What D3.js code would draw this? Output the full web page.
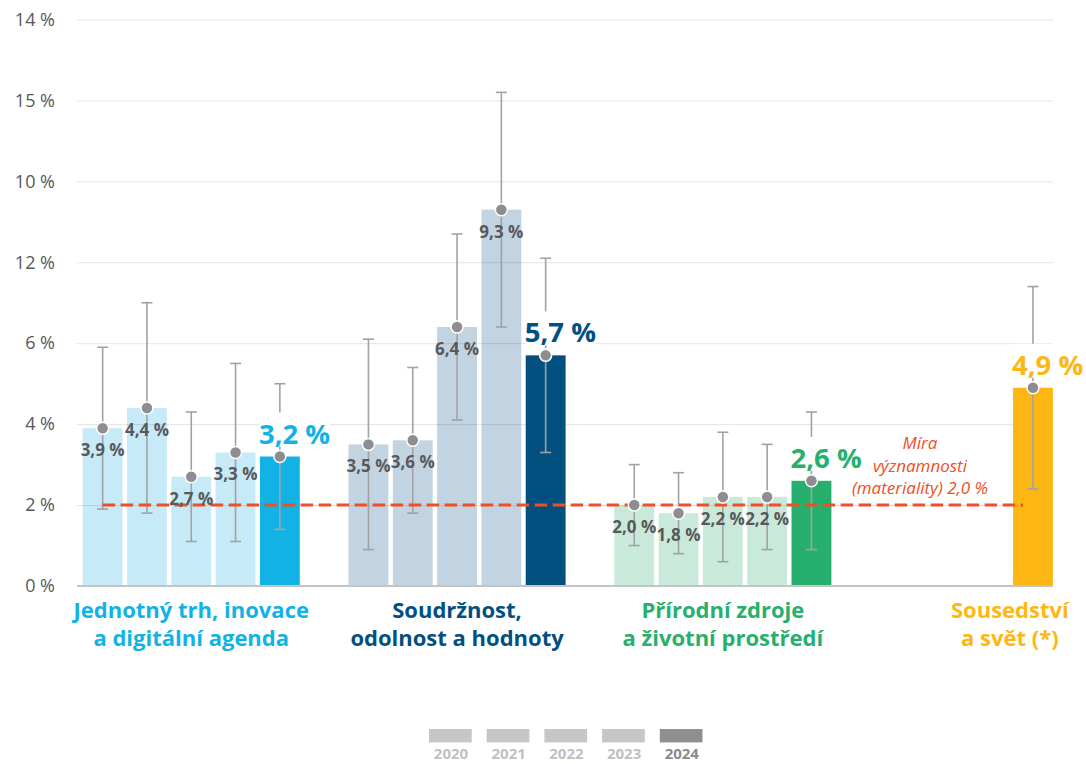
<!DOCTYPE html>
<html>
<head>
<meta charset="utf-8">
<script src="https://cdn.jsdelivr.net/npm/d3@7"></script>
<style>
  body { margin: 0; background: #fff; }
  svg { display: block; font-family: "Open Sans", sans-serif; }
</style>
</head>
<body>
<div id="chart"></div>
<script>
// Chyba (error rate) per oblast, 2020 - 2024

var years = ["2020", "2021", "2022", "2023", "2024"];

var groupNames = [
  ["Jednotný trh, inovace", "a digitální agenda"],
  ["Soudržnost,", "odolnost a hodnoty"],
  ["Přírodní zdroje", "a životní prostředí"],
  ["Sousedství", "a svět (*)"]
];

// point estimate + lower / upper limit of the interval
var trhValues = [3.9, 4.4, 2.7, 3.3, 3.2];
var trhLow    = [1.9, 1.8, 1.1, 1.1, 1.4];
var trhHigh   = [5.9, 7.0, 4.3, 5.5, 5.0];

var soudrValues = [3.5, 3.6, 6.4, 9.3, 5.7];
var soudrLow    = [0.9, 1.8, 4.1, 6.4, 3.3];
var soudrHigh   = [6.1, 5.4, 8.7, 12.2, 8.1];

var zdrojeValues = [2.0, 1.8, 2.2, 2.2, 2.6];
var zdrojeLow    = [1.0, 0.8, 0.6, 0.9, 0.9];
var zdrojeHigh   = [3.0, 2.8, 3.8, 3.5, 4.3];

var svetYears  = ["2024"];
var svetValues = [4.9];
var svetLow    = [2.4];
var svetHigh   = [7.4];

var materiality = 2.0;
var materialityText = ["Míra", "významnosti", "(materiality) 2,0 %"];

var yTicks = [0, 2, 4, 6, 8, 10, 12, 14];
var yTickLabels = ["0 %", "2 %", "4 %", "6 %", "12 %", "10 %", "15 %", "14 %"];

// colours: light (older years) / dark (2024)
var lightColors = ["#c6eaf8", "#c2d4e2", "#c9eadb", "#fdb714"];
var darkColors  = ["#12b3e4", "#01507f", "#27b06d", "#fdb714"];

// first slot of every group on the x band scale
var slotStart = [0, 6, 12, 21];

var W = 1086, H = 764;
var plotLeft = 77, plotRight = 1053;

var fmt = function (v) { return d3.format(".1f")(v).replace(".", ",") + " %"; };

// build rows
var rows = [];
function addGroup(g, yrs, vals, lo, hi) {
  yrs.forEach(function (yr, i) {
    rows.push({
      group: g, year: yr, value: vals[i], low: lo[i], high: hi[i],
      slot: slotStart[g] + i,
      last: yr === "2024"
    });
  });
}
addGroup(0, years, trhValues, trhLow, trhHigh);
addGroup(1, years, soudrValues, soudrLow, soudrHigh);
addGroup(2, years, zdrojeValues, zdrojeLow, zdrojeHigh);
addGroup(3, svetYears, svetValues, svetLow, svetHigh);

var svg = d3.select("#chart").append("svg")
  .attr("width", W).attr("height", H);

var y = d3.scaleLinear().domain([0, 14]).range([586, 19.5]);
var x = d3.scaleBand()
  .domain(d3.range(22))
  .range([80.5, 1055.1])
  .paddingInner(0.1)
  .paddingOuter(0.05);
var bw = x.bandwidth();

// y axis labels
var yAxis = svg.append("g")
  .attr("transform", "translate(" + plotLeft + ",0)")
  .call(d3.axisLeft(y).tickValues(yTicks)
    .tickFormat(function (d, i) { return yTickLabels[i]; })
    .tickSize(0).tickPadding(22));
yAxis.select(".domain").remove();
yAxis.selectAll("text")
  .attr("fill", "#58585a")
  .style("font-size", "18px")
  .style("font-family", "Open Sans, sans-serif");

// light bars
svg.append("g").selectAll("rect")
  .data(rows.filter(function (d) { return !d.last; }))
  .join("rect")
  .attr("x", function (d) { return x(d.slot); })
  .attr("y", function (d) { return y(d.value); })
  .attr("width", bw)
  .attr("height", function (d) { return y(0) - y(d.value); })
  .attr("fill", function (d) { return lightColors[d.group]; });

// gridlines (over the light bars, under the dark ones)
var grid = svg.append("g")
  .attr("transform", "translate(" + plotLeft + ",0)")
  .call(d3.axisLeft(y).tickValues(yTicks.slice(1)).tickFormat("")
    .tickSize(-(plotRight - plotLeft)));
grid.select(".domain").remove();
grid.selectAll("line").attr("stroke", "rgba(0,0,0,0.11)").attr("stroke-width", 1);

// dark 2024 bars
svg.append("g").selectAll("rect")
  .data(rows.filter(function (d) { return d.last; }))
  .join("rect")
  .attr("x", function (d) { return x(d.slot); })
  .attr("y", function (d) { return y(d.value); })
  .attr("width", bw)
  .attr("height", function (d) { return y(0) - y(d.value); })
  .attr("fill", function (d) { return darkColors[d.group]; });

// baseline
svg.append("line")
  .attr("x1", plotLeft).attr("x2", plotRight)
  .attr("y1", y(0)).attr("y2", y(0))
  .attr("stroke", "#c4c4c6").attr("stroke-width", 2);

// whiskers
var wh = svg.append("g").attr("stroke", "#a2a2a4").attr("stroke-width", 1.6);
rows.forEach(function (d) {
  var cx = x(d.slot) + bw / 2;
  wh.append("line").attr("x1", cx).attr("x2", cx)
    .attr("y1", y(d.low)).attr("y2", y(d.high));
  [d.low, d.high].forEach(function (v) {
    wh.append("line").attr("x1", cx - 5.5).attr("x2", cx + 5.5)
      .attr("y1", y(v)).attr("y2", y(v));
  });
});

// materiality line
var firstSlot = rows[0].slot, lastSlot = rows[rows.length - 1].slot;
svg.append("line")
  .attr("x1", x(firstSlot) + bw / 2)
  .attr("x2", x(lastSlot) + bw / 4)
  .attr("y1", y(materiality)).attr("y2", y(materiality))
  .attr("stroke", "#f04e23").attr("stroke-width", 3)
  .attr("stroke-dasharray", "12.5 5.5");

svg.append("text")
  .attr("x", 920).attr("y", 449)
  .attr("text-anchor", "middle")
  .attr("fill", "#f04e23")
  .style("font-style", "italic")
  .style("font-size", "17px")
  .selectAll("tspan")
  .data(materialityText)
  .join("tspan")
  .attr("x", 920)
  .attr("dy", function (d, i) { return i === 0 ? 0 : 22.5; })
  .text(function (d) { return d; });

// big labels for 2024 with white box behind
var big = svg.append("g");
rows.filter(function (d) { return d.last; }).forEach(function (d) {
  var tx = x(d.slot) - 1, ty = y(d.value) - 13;
  var t = big.append("text")
    .attr("x", tx).attr("y", ty)
    .attr("fill", darkColors[d.group])
    .style("font-size", "27.5px")
    .style("font-weight", 700)
    .text(fmt(d.value));
  var b = t.node().getBBox();
  big.insert("rect", "text")
    .attr("x", b.x).attr("y", ty - 31)
    .attr("width", b.width).attr("height", 34)
    .attr("fill", "#fff");
});

// dots
svg.append("g").selectAll("circle")
  .data(rows)
  .join("circle")
  .attr("cx", function (d) { return x(d.slot) + bw / 2; })
  .attr("cy", function (d) { return y(d.value); })
  .attr("r", 6)
  .attr("fill", "#8e8e91")
  .attr("stroke", "#fff")
  .attr("stroke-width", 1.5);

// small labels
svg.append("g").selectAll("text")
  .data(rows.filter(function (d) { return !d.last; }))
  .join("text")
  .attr("x", function (d) { return x(d.slot) + bw / 2; })
  .attr("y", function (d) { return y(d.value) + 28; })
  .attr("text-anchor", "middle")
  .attr("fill", "#59595b")
  .style("font-size", "17px")
  .style("font-weight", 700)
  .text(function (d) { return fmt(d.value); });

// group labels
groupNames.forEach(function (lines, g) {
  var gr = rows.filter(function (d) { return d.group === g; });
  var x0 = x(gr[0].slot), x1 = x(gr[gr.length - 1].slot) + bw;
  var t = svg.append("text")
    .attr("text-anchor", "middle")
    .attr("fill", darkColors[g])
    .style("font-size", "22px")
    .style("font-weight", 700);
  t.selectAll("tspan").data(lines).join("tspan")
    .attr("x", (x0 + x1) / 2)
    .attr("y", function (d, i) { return 618 + i * 28; })
    .text(function (d) { return d; });
  var b = t.node().getBBox();
  if (b.x + b.width > W - 16) {
    t.attr("transform", "translate(" + (W - 16 - b.x - b.width) + ",0)");
  }
});

// legend
var legendGrey = ["#c6c6c8", "#c6c6c8", "#c6c6c8", "#c6c6c8", "#8f8f92"];
var legendText = ["#c0c0c2", "#c0c0c2", "#c0c0c2", "#c0c0c2", "#8a8a8d"];
var lg = svg.append("g").attr("transform", "translate(429,729)");
years.forEach(function (yr, i) {
  var gx = i * 57.7;
  lg.append("rect").attr("x", gx).attr("y", 0)
    .attr("width", 42.7).attr("height", 13.4)
    .attr("fill", legendGrey[i]);
  lg.append("text").attr("x", gx + 22).attr("y", 30)
    .attr("text-anchor", "middle")
    .attr("fill", legendText[i])
    .style("font-size", "15px")
    .style("font-weight", 700)
    .text(yr);
});
</script>
</body>
</html>
